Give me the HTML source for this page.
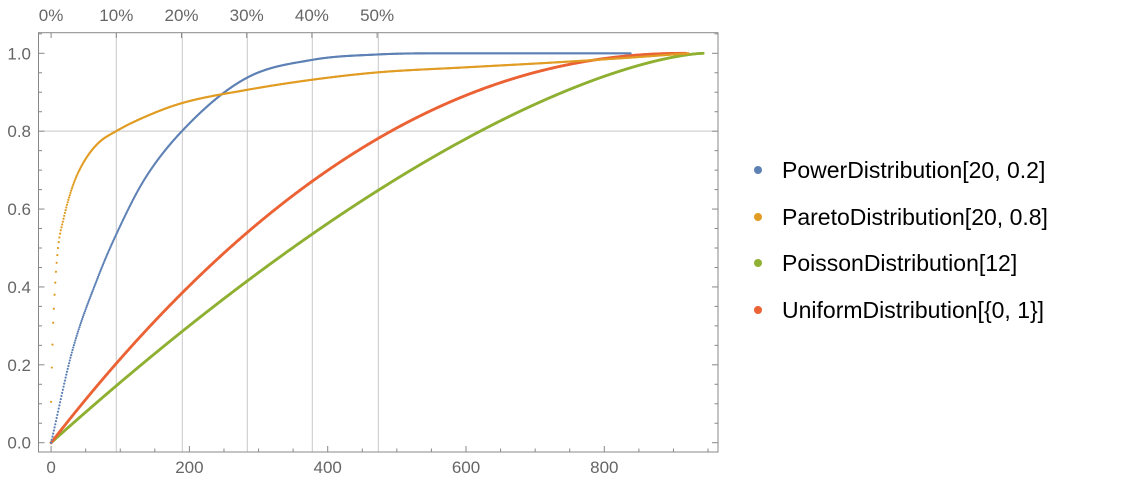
<!DOCTYPE html>
<html><head><meta charset="utf-8"><style>
html,body{margin:0;padding:0;background:#fff;}
svg{display:block;font-family:"Liberation Sans",sans-serif;}
</style></head><body>
<svg id="s" width="1130" height="484" xmlns="http://www.w3.org/2000/svg">
<g id="grid" stroke="#c8c8c8" stroke-width="1"></g>
<g id="pts"></g>
<rect x="38.5" y="32.7" width="679.5" height="419.3" fill="none" stroke="#888" stroke-width="1"/>
<g id="ticks" stroke="#888" stroke-width="1"></g>
<g id="labels" fill="#666" font-size="17"></g>
<g font-size="23" fill="#000">
<circle cx="758" cy="170" r="4" fill="#5E81B5"/><text x="782" y="178">PowerDistribution[20, 0.2]</text>
<circle cx="758" cy="217" r="4" fill="#E19C24"/><text x="782" y="225">ParetoDistribution[20, 0.8]</text>
<circle cx="758" cy="263" r="4" fill="#8FB032"/><text x="782" y="271">PoissonDistribution[12]</text>
<circle cx="758" cy="310" r="4" fill="#EB6235"/><text x="782" y="318">UniformDistribution[{0, 1}]</text>
</g>
</svg>
<script>
var NS="http://www.w3.org/2000/svg";
function X(i){return 51.1+i*0.6915;}
function Y(v){return 442.7-v*389.4;}
function el(p,t,a,txt){var e=document.createElementNS(NS,t);for(var k in a)e.setAttribute(k,a[k]);if(txt!==undefined)e.textContent=txt;document.getElementById(p).appendChild(e);return e;}
[116.3,182.3,247.3,312.3,378.3].forEach(function(x){el("grid","line",{x1:x,x2:x,y1:32.7,y2:452});});
el("grid","line",{x1:38.5,x2:718,y1:Y(0.8),y2:Y(0.8)});
for(var u=0;u<=950;u+=50){var x=X(u);var maj=(u%200==0);
 el("ticks","line",{x1:x,x2:x,y1:452,y2:452-(maj?6:3.5)});}
[0,200,400,600,800].forEach(function(u){el("labels","text",{x:X(u),y:473,"text-anchor":"middle"},String(u));});
for(var p=0;p<=50;p+=10){var x=51.1+p*6.52;el("ticks","line",{x1:x,x2:x,y1:32.7,y2:38});
 el("labels","text",{x:x,y:21,"text-anchor":"middle"},p+"%");}
for(var k=0;k<=21;k++){var v=k*0.05;var y=Y(v);var maj=(k%4==0);
 el("ticks","line",{x1:38.5,x2:38.5+(maj?6:3.5),y1:y,y2:y});
 el("ticks","line",{x1:718,x2:718-(maj?6:3.5),y1:y,y2:y});}
[0,0.2,0.4,0.6,0.8,1.0].forEach(function(v){el("labels","text",{x:31,y:Y(v)+6,"text-anchor":"end"},v.toFixed(1));});
function mono(pts){var n=pts.length,xs=pts.map(function(p){return p[0]}),ys=pts.map(function(p){return p[1]});
 var d=[],m=[];for(var k=0;k<n-1;k++)d.push((ys[k+1]-ys[k])/(xs[k+1]-xs[k]));
 m[0]=d[0];m[n-1]=d[n-2];for(var k=1;k<n-1;k++){m[k]=(d[k-1]*d[k]<=0)?0:(d[k-1]+d[k])/2;}
 for(var k=0;k<n-1;k++){if(d[k]==0){m[k]=0;m[k+1]=0;continue;}var a=m[k]/d[k],b=m[k+1]/d[k],s=a*a+b*b;if(s>9){var t=3/Math.sqrt(s);m[k]=t*a*d[k];m[k+1]=t*b*d[k];}}
 return function(x){var k=0;while(k<n-2&&x>xs[k+1])k++;var h=xs[k+1]-xs[k],t=(x-xs[k])/h;if(t>1)t=1;
  var t2=t*t,t3=t2*t;return (2*t3-3*t2+1)*ys[k]+(t3-2*t2+t)*h*m[k]+(-2*t3+3*t2)*ys[k+1]+(t3-t2)*h*m[k+1];};}
function series(n,f,col,r){for(var i=0;i<n;i++){el("pts","circle",{cx:X(i).toFixed(2),cy:Y(f(i)).toFixed(2),r:r,fill:col});}}
series(944,function(i){return 1-Math.pow(1-i/943,1.5);},"#8FB032",1.4);
series(919,function(i){return 1-Math.pow(Math.max(0,1-i/918),2.1);},"#EB6235",1.4);
var bf=mono([[0,0],[31,0.238],[68,0.426],[95,0.538],[136,0.679],[200,0.82],[283,0.937],[377,0.983],[472,0.997],[560,1.0],[838,1.0]]);
series(839,bf,"#5E81B5",1.1);
var of=mono([[0,0.105],[1,0.193],[2,0.252],[3,0.308],[4,0.344],[5,0.380],[6,0.411],[7,0.439],[8,0.462],[11,0.515],[17.6,0.572],[24.9,0.623],[34.6,0.675],[49,0.726],[68,0.769],[95,0.801],[136,0.837],[189,0.872],[283,0.906],[377,0.932],[472,0.951],[600,0.964],[723,0.976],[830,0.988],[922,1.0]]);
series(923,of,"#E19C24",1.1);
</script>
</body></html>
